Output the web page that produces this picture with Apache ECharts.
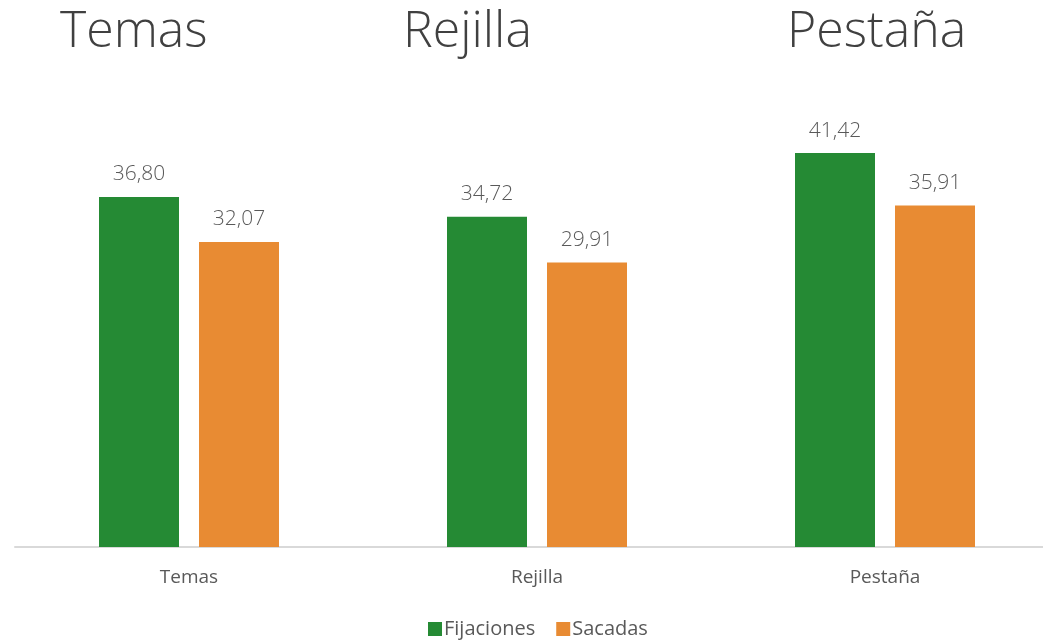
<!DOCTYPE html>
<html><head><meta charset="utf-8">
<script src="https://cdn.jsdelivr.net/npm/echarts@6/dist/echarts.min.js"></script>
<style>html,body{margin:0;padding:0;background:#fff}#c{width:1043px;height:640px}</style>
</head><body><div id="c"></div>
<script>
const categories = ['Temas', 'Rejilla', 'Pestaña'];
const fijaciones = [36.80, 34.72, 41.42];
const sacadas = [32.07, 29.91, 35.91];
const titles = ['Temas', 'Rejilla', 'Pestaña'];

const chart = echarts.init(document.getElementById('c'));
const fmt = p => p.value.toFixed(2).replace('.', ',');
const labelStyle = {show: true, position: 'top', distance: 12, formatter: fmt, color: '#595959', fontSize: 21, fontFamily: 'Open Sans', fontWeight: 300};
const titleLefts = [55, 398, 782];
chart.setOption({
  animation: false,
  title: titles.map((t, i) => ({text: t, left: titleLefts[i], top: 3,
    textStyle: {fontSize: 50, fontWeight: 300, fontFamily: 'Open Sans', color: '#404040'}})),
  legend: {top: 614, left: 423, itemWidth: 14, itemHeight: 14, itemGap: 21, icon: 'rect',
    textStyle: {fontSize: 20, color: '#595959', fontFamily: 'Open Sans', padding: [0,0,0,-3]}},
  grid: {left: 15, width: 1044, top: 119, bottom: 93, containLabel: false, outerBoundsMode: 'none'},
  xAxis: {type: 'category', data: categories,
    axisLine: {lineStyle: {color: '#d9d9d9', width: 2}}, axisTick: {show: false},
    axisLabel: {color: '#595959', fontSize: 19, fontFamily: 'Open Sans', margin: 21}},
  yAxis: {type: 'value', min: 0, max: 45, show: false, splitLine: {show: false}},
  series: [
    {name: 'Fijaciones', type: 'bar', data: fijaciones, barWidth: 80, barGap: '25%',
     itemStyle: {color: '#258A34'}, label: labelStyle},
    {name: 'Sacadas', type: 'bar', data: sacadas, barWidth: 80,
     itemStyle: {color: '#E88B33'}, label: labelStyle}
  ]
});
</script></body></html>
